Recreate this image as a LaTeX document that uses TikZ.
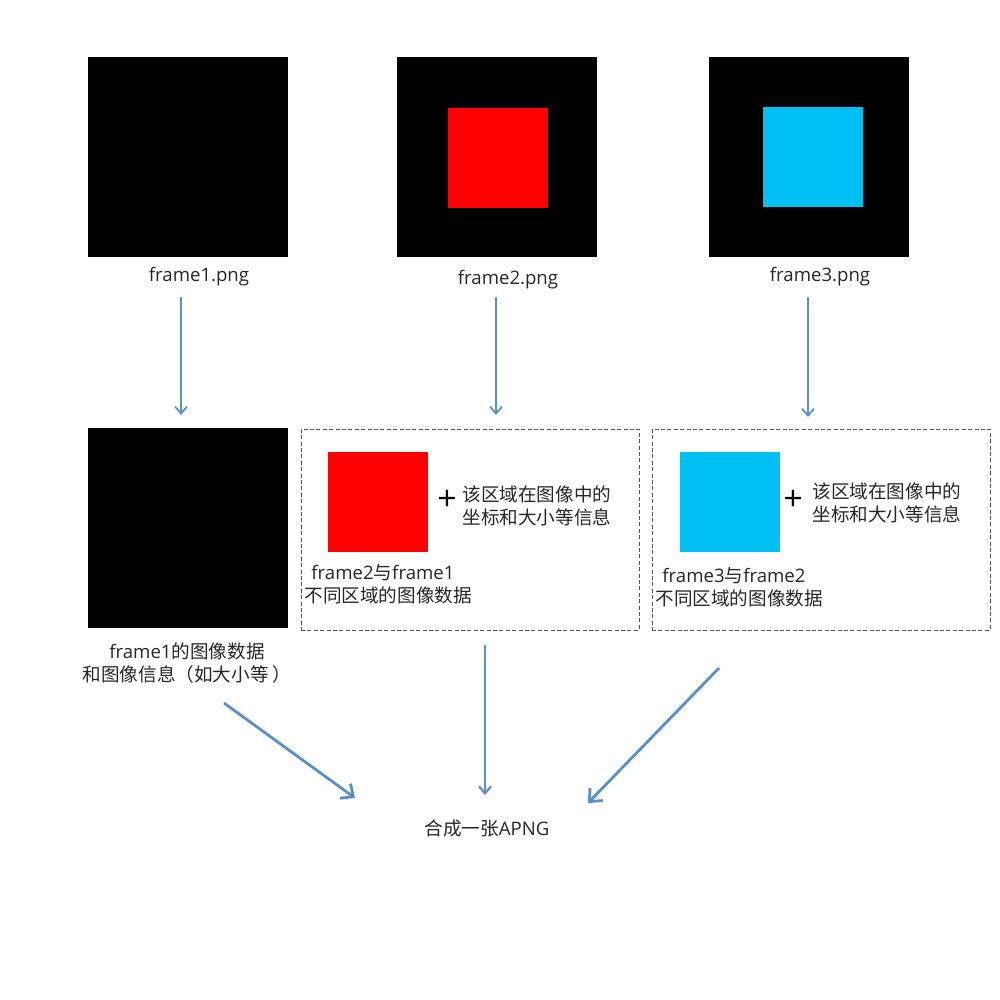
\documentclass[tikz,border=0pt]{standalone}
\usepackage{fontspec}
\setmainfont{Open Sans}
\newfontfamily\cjk{Noto Sans CJK SC}
\usetikzlibrary{arrows.meta}
\definecolor{arrowblue}{HTML}{5A8FCB}
\definecolor{skyc}{HTML}{00BFF3}
\definecolor{dashgray}{HTML}{555555}
\newcommand{\zh}[1]{{\cjk\fontsize{9.3}{11.6}\selectfont #1}}
\begin{document}
\begin{tikzpicture}[x=0.5pt,y=-0.5pt,
  bigsq/.style={fill=black,draw=none,minimum size=100pt,inner sep=0pt},
  smallsq/.style={draw=none,minimum size=50pt,inner sep=0pt},
  lbl/.style={font=\fontsize{9.3}{11.6}\selectfont,inner sep=0pt,text=black!85},
  lbll/.style={lbl,align=left},
  plus/.style={font=\fontsize{17}{17}\selectfont,inner sep=0pt},
  dbox/.style={draw=dashgray,dash pattern=on 2pt off 1.2pt,line width=0.5pt},
  arr/.style={draw=arrowblue,line width=0.9pt,-{Straight Barb[length=3.5pt,width=6pt]}},
  arrb/.style={draw=arrowblue,line width=1.4pt,-{Straight Barb[length=5pt,width=9pt]}}]
\useasboundingbox (0,0) rectangle (1000,1000);
% top row
\node[bigsq] (f1) at (188,157) {};
\node[bigsq] (f2) at (497,157) {};
\node[smallsq,fill=red] (f2r) at (498,158) {};
\node[bigsq] (f3) at (809,157) {};
\node[smallsq,fill=skyc] (f3c) at (813,157) {};
\node[lbl] (l1) at (199,277) {frame1.png};
\node[lbl] (l2) at (508,280) {frame2.png};
\node[lbl] (l3) at (820,277) {frame3.png};
% second row
\node[bigsq] (g1) at (188,528) {};
\node[dbox,minimum width=169pt,minimum height=100.5pt,inner sep=0pt] (b2) at (470,529.5) {};
\node[smallsq,fill=red] (g2) at (378,502) {};
\node[plus] (p2) at (447,500) {+};
\node[lbll,anchor=west] (t2) at (462,506) {\zh{该区域在图像中的}\\\zh{坐标和大小等信息}};
\node[lbll,anchor=west] (u2) at (304,584) {\hspace{3.5pt}frame2\zh{与}frame1\\\zh{不同区域的图像数据}};
\node[dbox,minimum width=169pt,minimum height=100.5pt,inner sep=0pt] (b3) at (821,529.5) {};
\node[smallsq,fill=skyc] (g3) at (730,502) {};
\node[plus] (p3) at (793,500) {+};
\node[lbll,anchor=west] (t3) at (812,503) {\zh{该区域在图像中的}\\\zh{坐标和大小等信息}};
\node[lbll,anchor=west] (u3) at (655,587) {\hspace{3.5pt}frame3\zh{与}frame2\\\zh{不同区域的图像数据}};
\node[lbl,align=center] (v1) at (187,663) {frame1\zh{的图像数据}\\\zh{和图像信息（如大小等 ）}};
\node[lbl] (res) at (487,828) {\zh{合成一张}APNG};
% connectors
\coordinate (a1s) at (181,297); \coordinate (a1e) at (181,415);
\coordinate (a2s) at (496,297); \coordinate (a2e) at (496,415);
\coordinate (a3s) at (808,297); \coordinate (a3e) at (808,417);
\draw[arr] (a1s) -- (a1e);
\draw[arr] (a2s) -- (a2e);
\draw[arr] (a3s) -- (a3e);
\coordinate (c1s) at (224,703); \coordinate (c1e) at (355,798);
\coordinate (c2s) at (485,645); \coordinate (c2e) at (485,795);
\coordinate (c3s) at (719,668); \coordinate (c3e) at (588,803);
\draw[arrb] (c1s) -- (c1e);
\draw[arr,line width=1.1pt] (c2s) -- (c2e);
\draw[arrb] (c3s) -- (c3e);
\end{tikzpicture}
\end{document}
